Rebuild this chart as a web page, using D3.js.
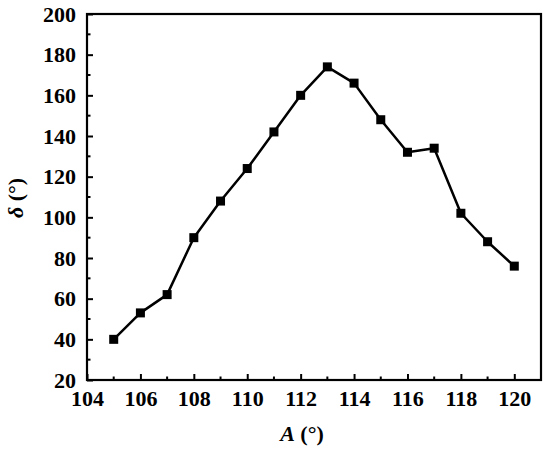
<!DOCTYPE html>
<html>
<head>
<meta charset="utf-8">
<script src="https://cdn.jsdelivr.net/npm/d3@7"></script>
<style>
	body { margin: 0; background: #fff; }
	text { font-family: 'Liberation Serif', 'Times New Roman', serif; font-weight: bold; }
</style>
</head>
<body>
<div id="chart"></div>
<script>
// data
const angleA = [105, 106, 107, 108, 109, 110, 111, 112, 113, 114, 115, 116, 117, 118, 119, 120];
const delta = [40, 53, 62, 90, 108, 124, 142, 160, 174, 166, 148, 132, 134, 102, 88, 76];
const xTicks = [104, 106, 108, 110, 112, 114, 116, 118, 120];
const yTicks = [20, 40, 60, 80, 100, 120, 140, 160, 180, 200];

const width = 550, height = 450;
const margin = {top: 14, right: 9, bottom: 70, left: 87};

const svg = d3.select('#chart')
	.append('svg')
	.attr('width', width)
	.attr('height', height);

const x = d3.scaleLinear().domain([104, 121]).range([margin.left, width - margin.right]);
const y = d3.scaleLinear().domain([20, 200]).range([height - margin.bottom, margin.top]);

// minor ticks (inward)
const xMinor = d3.range(105, 121, 2);
const yMinor = d3.range(30, 200, 20);

svg.append('g')
	.selectAll('line')
	.data(xMinor)
	.enter().append('line')
		.attr('x1', d => x(d)).attr('x2', d => x(d))
		.attr('y1', y(20)).attr('y2', y(20) - 3.5)
		.attr('stroke', '#000').attr('stroke-width', 2);

svg.append('g')
	.selectAll('line')
	.data(yMinor)
	.enter().append('line')
		.attr('x1', x(104)).attr('x2', x(104) + 3.5)
		.attr('y1', d => y(d)).attr('y2', d => y(d))
		.attr('stroke', '#000').attr('stroke-width', 2);

// axes
const xAxis = svg.append('g')
	.attr('transform', `translate(0,${y(20)})`)
	.call(d3.axisBottom(x).tickValues(xTicks).tickSizeInner(-6).tickSizeOuter(0).tickPadding(10));

const yAxis = svg.append('g')
	.attr('transform', `translate(${x(104)},0)`)
	.call(d3.axisLeft(y).tickValues(yTicks).tickSizeInner(-6).tickSizeOuter(0).tickPadding(11));

[xAxis, yAxis].forEach(g => {
	g.select('.domain').remove();
	g.selectAll('.tick line').attr('stroke', '#000').attr('stroke-width', 2);
	g.selectAll('.tick text')
		.attr('fill', '#000')
		.style('font-size', '22px');
});

// frame
svg.append('rect')
	.attr('x', x(104)).attr('y', y(200))
	.attr('width', x(121) - x(104))
	.attr('height', y(20) - y(200))
	.attr('fill', 'none')
	.attr('stroke', '#000')
	.attr('stroke-width', 2.2);

// line + markers
const pts = angleA.map((a, i) => [a, delta[i]]);
svg.append('path')
	.datum(pts)
	.attr('fill', 'none')
	.attr('stroke', '#000')
	.attr('stroke-width', 2.5)
	.attr('stroke-linejoin', 'round')
	.attr('d', d3.line().x(d => x(d[0])).y(d => y(d[1])));

svg.append('g')
	.selectAll('rect')
	.data(pts)
	.enter().append('rect')
		.attr('x', d => x(d[0]) - 4.5)
		.attr('y', d => y(d[1]) - 4.5)
		.attr('width', 9).attr('height', 9)
		.attr('fill', '#000');

// axis titles
const xt = svg.append('text')
	.attr('x', 302)
	.attr('y', 441)
	.attr('text-anchor', 'middle')
	.style('font-size', '22px');
xt.append('tspan').style('font-style', 'italic').text('A');
xt.append('tspan').text(' (°)');

const yt = svg.append('text')
	.attr('transform', `translate(23,198) rotate(-90)`)
	.attr('text-anchor', 'middle')
	.style('font-size', '22px');
yt.append('tspan').style('font-style', 'italic').text('δ');
yt.append('tspan').text(' (°)');
</script>
</body>
</html>
